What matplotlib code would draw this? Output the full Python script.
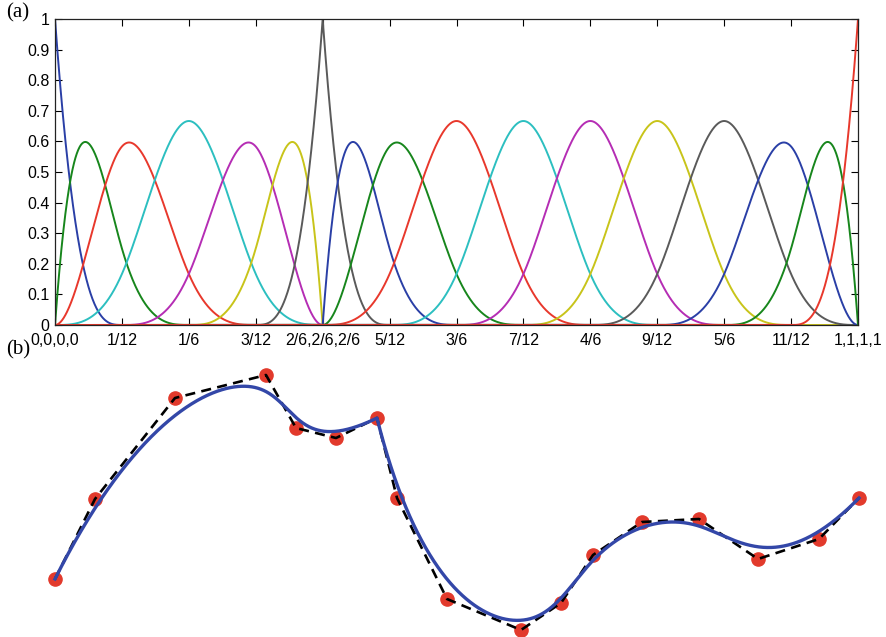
import numpy as np
import matplotlib
matplotlib.use("Agg")
import matplotlib.pyplot as plt

# cubic B-spline, knot vector with triple knot at 2/6
degree = 3
knots = [0, 0, 0, 0, 1/12, 1/6, 3/12, 2/6, 2/6, 2/6, 5/12, 3/6, 7/12,
         4/6, 9/12, 5/6, 11/12, 1, 1, 1, 1]
tick_pos = [0, 1/12, 1/6, 3/12, 2/6, 5/12, 3/6, 7/12, 4/6, 9/12, 5/6, 11/12, 1]
tick_labels = ["0,0,0,0", "1/12", "1/6", "3/12", "2/6,2/6,2/6", "5/12", "3/6",
               "7/12", "4/6", "9/12", "5/6", "11/12", "1,1,1,1"]

# control points of panel (b)
ctrl_x = [55, 95, 175, 266, 296, 336, 377, 397, 447, 521, 561, 593, 642, 699, 758, 819, 859]
ctrl_y = [579, 499, 398, 375, 428, 438, 418, 498, 599, 630, 603, 555, 522, 519, 559, 539, 498]

colors = ["#2a3fa6", "#17861c", "#e8382c", "#2cbfc0", "#b52db4", "#c8c41a", "#5a5a5a"]


def basis(knots, p, u):
    t = np.asarray(knots, dtype=float)
    n = len(t) - 1
    N = np.zeros((n, len(u)))
    for i in range(n):
        N[i] = (u >= t[i]) & (u < t[i + 1])
    # close the right end
    last = np.max(np.nonzero(t[:-1] < t[1:])[0])
    N[last, u >= t[-1]] = 1.0
    for k in range(1, p + 1):
        M = np.zeros((n - k, len(u)))
        for i in range(n - k):
            a = t[i + k] - t[i]
            b = t[i + k + 1] - t[i + 1]
            if a > 0:
                M[i] += (u - t[i]) / a * N[i]
            if b > 0:
                M[i] += (t[i + k + 1] - u) / b * N[i + 1]
        N = M
    return N


u = np.linspace(0, 1, 2401)
N = basis(knots, degree, u)

fig = plt.figure(figsize=(8.87, 6.37), dpi=100)
plt.rcParams["font.family"] = ["Liberation Sans", "DejaVu Sans"]

ax = fig.add_axes([55 / 887, 1 - 325 / 637, (858 - 55) / 887, (325 - 19) / 637])
for i in range(N.shape[0]):
    ax.plot(u, N[i], color=colors[i % len(colors)], lw=1.4)
ax.set_xlim(0, 1)
ax.set_ylim(0, 1)
ax.set_xticks(tick_pos)
ax.set_xticklabels(tick_labels)
ax.set_yticks(np.arange(0, 1.01, 0.1))
ax.set_yticklabels(["0"] + [f"{v:.1f}" for v in np.arange(0.1, 0.95, 0.1)] + ["1"])
ax.tick_params(direction="in", top=True, right=True, length=5, width=0.8,
               labelsize=11.5, pad=4)
ax.tick_params(axis="x", pad=6)
for s in ax.spines.values():
    s.set_linewidth(0.9)
    s.set_color("#222222")

fig.text(6 / 887, 1 - 13 / 637, "(a)", family="Liberation Serif", fontsize=15, va="center")
fig.text(6 / 887, 1 - 350 / 637, "(b)", family="Liberation Serif", fontsize=15, va="center")

# panel (b): spline curve from the same basis
bx = fig.add_axes([0, 0, 1, 1])
bx.set_xlim(0, 887)
bx.set_ylim(637, 0)
bx.axis("off")
px = np.asarray(ctrl_x, dtype=float)
py = np.asarray(ctrl_y, dtype=float)
bx.plot(px, py, color="black", lw=1.9, ls=(0, (3.8, 2.4)), zorder=2)
bx.plot(N.T @ px, N.T @ py, color="#3347a8", lw=2.4, zorder=3)
bx.plot(px, py, "o", color="#e23a2c", ms=9.5, mec="#e23a2c", zorder=1)

fig.savefig("out.png", dpi=100)
